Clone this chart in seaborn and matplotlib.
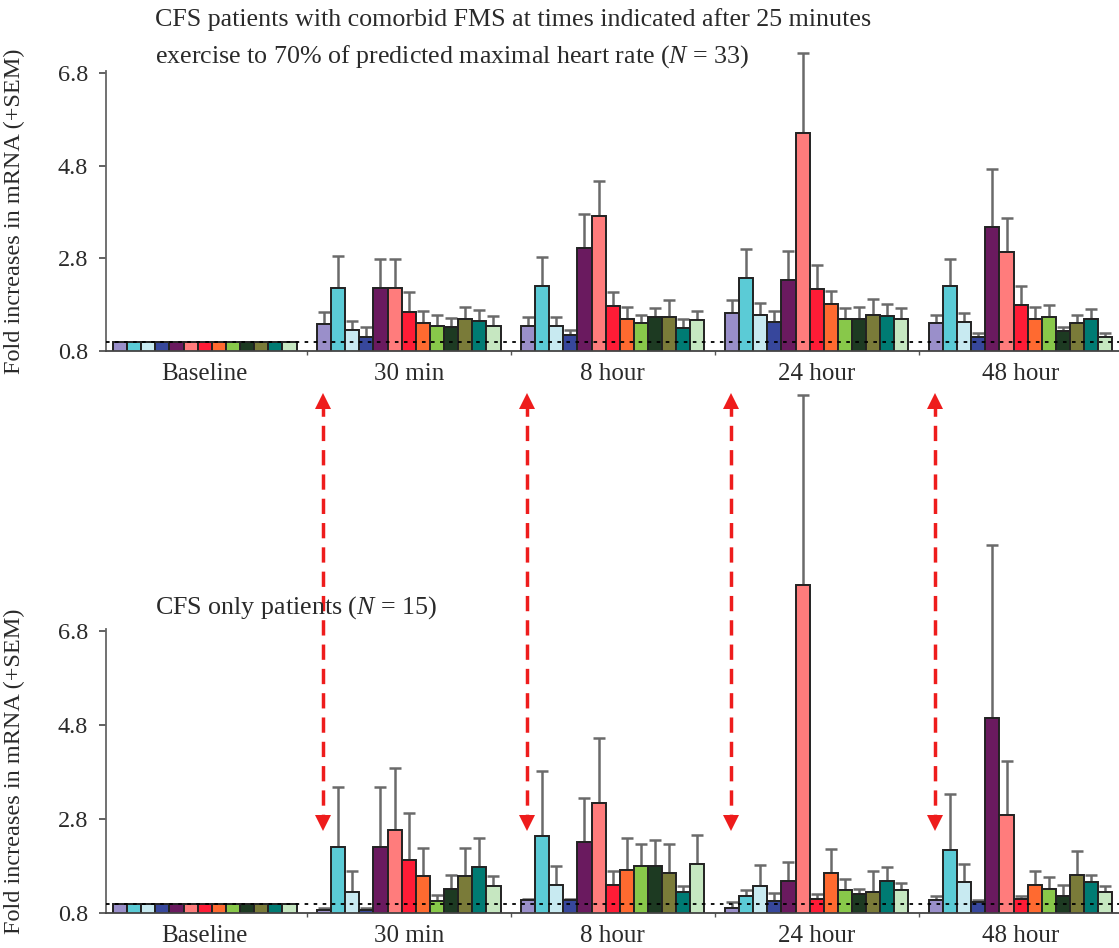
import numpy as np
import pandas as pd
import matplotlib
matplotlib.use("Agg")
import matplotlib.pyplot as plt
import seaborn as sns
from matplotlib.lines import Line2D
from matplotlib.patches import Rectangle
from matplotlib.transforms import blended_transform_factory

# ---------------- data ----------------
times = ["Baseline", "30 min", "8 hour", "24 hour", "48 hour"]
genes = ["ASIC3", "P2X4", "P2X5", "TRPV1", "ADRA2A", "ADRB1", "ADRB2",
         "COMT", "IL6", "IL10", "TNFa", "TLR4", "CD14"]
gene_colors = ["#9a8fca", "#5bcbd6", "#c8eaf1", "#37479c", "#6a1a5f",
               "#ff7c7c", "#ff1c36", "#ff6a30", "#88c84a", "#1d3a22",
               "#7a7b39", "#007b73", "#c6e7c1"]

# Top panel: CFS with comorbid FMS (N = 33) -- mean fold change and SEM
top_baseline_mean = [1.0] * 13
top_baseline_sem = [np.nan] * 13
top_30min_mean = [1.38, 2.15, 1.26, 1.10, 2.15, 2.15, 1.65, 1.41, 1.34, 1.32, 1.50, 1.44, 1.35]
top_30min_sem = [0.26, 0.70, 0.19, 0.22, 0.64, 0.64, 0.42, 0.26, 0.24, 0.20, 0.26, 0.25, 0.21]
top_8h_mean = [1.33, 2.21, 1.33, 1.15, 3.02, 3.71, 1.77, 1.50, 1.40, 1.53, 1.53, 1.29, 1.47]
top_8h_sem = [0.21, 0.61, 0.21, 0.11, 0.73, 0.77, 0.31, 0.24, 0.18, 0.19, 0.38, 0.20, 0.19]
top_24h_mean = [1.62, 2.37, 1.58, 1.43, 2.34, 5.50, 2.13, 1.82, 1.49, 1.49, 1.58, 1.55, 1.50]
top_24h_sem = [0.28, 0.63, 0.26, 0.24, 0.61, 1.74, 0.52, 0.28, 0.23, 0.27, 0.35, 0.27, 0.22]
top_48h_mean = [1.40, 2.21, 1.43, 1.10, 3.47, 2.93, 1.79, 1.50, 1.53, 1.23, 1.41, 1.50, 1.10]
top_48h_sem = [0.17, 0.58, 0.20, 0.08, 1.25, 0.75, 0.42, 0.26, 0.26, 0.09, 0.17, 0.21, 0.08]

# Bottom panel: CFS only (N = 15)
bot_baseline_mean = [1.0] * 13
bot_baseline_sem = [np.nan] * 13
bot_30min_mean = [0.86, 2.20, 1.25, 0.86, 2.20, 2.56, 1.92, 1.58, 1.06, 1.32, 1.58, 1.78, 1.37]
bot_30min_sem = [0.04, 1.29, 0.44, 0.04, 1.29, 1.32, 1.01, 0.60, 0.12, 0.28, 0.60, 0.61, 0.21]
bot_8h_mean = [1.07, 2.43, 1.40, 1.07, 2.31, 3.14, 1.40, 1.72, 1.81, 1.79, 1.66, 1.25, 1.84]
bot_8h_sem = [0.02, 1.39, 0.41, 0.02, 0.94, 1.38, 0.29, 0.68, 0.45, 0.56, 0.60, 0.12, 0.63]
bot_24h_mean = [0.91, 1.16, 1.37, 1.06, 1.49, 7.78, 1.10, 1.66, 1.28, 1.20, 1.25, 1.49, 1.28]
bot_24h_sem = [0.12, 0.12, 0.45, 0.16, 0.40, 4.04, 0.10, 0.51, 0.24, 0.11, 0.44, 0.28, 0.15]
bot_48h_mean = [1.07, 2.13, 1.46, 1.04, 4.94, 2.88, 1.09, 1.40, 1.31, 1.17, 1.61, 1.46, 1.25]
bot_48h_sem = [0.09, 1.21, 0.39, 0.03, 3.70, 1.16, 0.07, 0.29, 0.26, 0.23, 0.50, 0.15, 0.12]

y_ticks = [0.8, 2.8, 4.8, 6.8]
reference_level = 1.0

top_title = ["CFS patients with comorbid FMS at times indicated after 25 minutes",
             "exercise to 70% of predicted maximal heart rate ($N$ = 33)"]
bot_title = "CFS only patients ($N$ = 15)"
y_label = "Fold increases in mRNA (+SEM)"


def build_frame(means, sems):
    rows = []
    for t, m_list, s_list in zip(times, means, sems):
        for g, m, s in zip(genes, m_list, s_list):
            rows.append({"time": t, "gene": g, "mean": m, "sem": s})
    return pd.DataFrame(rows)


top_df = build_frame(
    [top_baseline_mean, top_30min_mean, top_8h_mean, top_24h_mean, top_48h_mean],
    [top_baseline_sem, top_30min_sem, top_8h_sem, top_24h_sem, top_48h_sem])
bot_df = build_frame(
    [bot_baseline_mean, bot_30min_mean, bot_8h_mean, bot_24h_mean, bot_48h_mean],
    [bot_baseline_sem, bot_30min_sem, bot_8h_sem, bot_24h_sem, bot_48h_sem])

# ---------------- style ----------------
sns.set_style("ticks")
plt.rcParams["font.family"] = ["Liberation Serif", "DejaVu Serif"]
plt.rcParams["mathtext.fontset"] = "custom"
plt.rcParams["mathtext.rm"] = "Liberation Serif"
plt.rcParams["mathtext.it"] = "Liberation Serif:italic"
text_color = "#2a2a2a"

W, H = 1119, 948
fig = plt.figure(figsize=(W / 100, H / 100), dpi=100)

ylim = (0.8, 6.85)
left_px, right_px = 106, 1119
ax_top = fig.add_axes([left_px / W, 1 - 351 / H, (right_px - left_px) / W,
                       (ylim[1] - ylim[0]) * 46.33 / H])
ax_bot = fig.add_axes([left_px / W, 1 - 913 / H, (right_px - left_px) / W,
                       (ylim[1] - ylim[0]) * 47.0 / H])

palette = dict(zip(genes, gene_colors))


def draw_panel(ax, df):
    sns.barplot(data=df, x="time", y="mean", hue="gene", order=times,
                hue_order=genes, palette=palette, errorbar=None, width=0.9,
                saturation=1, edgecolor="#222222", linewidth=1.4,
                legend=False, ax=ax, zorder=2)
    # clip bars only at the bottom of the axes, let tall bars rise above the top
    clip_rect = Rectangle((-0.1, 0.0), 1.2, 4.0, transform=ax.transAxes)
    for gene, cont in zip(genes, ax.containers):
        sub = df[df["gene"] == gene].set_index("time").loc[times]
        for patch, sem in zip(cont.patches, sub["sem"].values):
            patch.set_clip_path(clip_rect)
            if np.isnan(sem):
                continue
            xc = patch.get_x() + patch.get_width() / 2
            yv = patch.get_height()
            ax.errorbar([xc], [yv], yerr=[[0], [sem]], fmt="none",
                        ecolor="#6a6a6a", elinewidth=1.8, capsize=4.6,
                        capthick=1.8, zorder=1, clip_on=False)
    ax.axhline(reference_level, color="black", lw=1.3, ls=(0, (2, 3)), zorder=3)
    ax.set_ylim(*ylim)
    ax.set_xlim(-0.484, 4.482)
    ax.set_yticks(y_ticks)
    ax.set_yticklabels([f"{v:.1f}" for v in y_ticks])
    ax.set_xticks(range(len(times)))
    ax.set_xticklabels(times)
    ax.set_xticks([0.5, 1.5, 2.5, 3.5], minor=True)
    ax.tick_params(axis="x", which="major", length=0, pad=9, labelsize=18,
                   labelcolor=text_color)
    ax.tick_params(axis="x", which="minor", length=3, width=1.0, color="#555555")
    ax.tick_params(axis="y", length=5, width=1.3, color="#555555", pad=8,
                   labelsize=17.5, labelcolor=text_color)
    ax.set_xlabel("")
    ax.set_ylabel(y_label, fontsize=17.5, color=text_color)
    ax.yaxis.set_label_coords(-0.08, 0.5)
    for s in ("top", "right"):
        ax.spines[s].set_visible(False)
    ax.spines["left"].set_color("#666666")
    ax.spines["left"].set_linewidth(1.3)
    ax.spines["bottom"].set_color("#444444")
    ax.spines["bottom"].set_linewidth(1.3)
    ax.set_facecolor("none")


draw_panel(ax_top, top_df)
draw_panel(ax_bot, bot_df)

# titles
fig.text(155 / W, 1 - 20 / H, top_title[0], ha="left", va="center",
         fontsize=18.7, color=text_color)
fig.text(155 / W, 1 - 57 / H, top_title[1], ha="left", va="center",
         fontsize=18.7, color=text_color)
fig.text(155 / W, 1 - 608 / H, bot_title, ha="left", va="center",
         fontsize=18.7, color=text_color)

# red dashed double-headed arrows linking the panels
trans = blended_transform_factory(ax_top.transData, fig.transFigure)
arrow_red = "#ee1c1c"
y_tip_top, y_tip_bot, head = 1 - 393 / H, 1 - 831 / H, 8 / H
for gi in range(1, len(times)):
    xa = gi - 0.42
    fig.add_artist(Line2D([xa, xa], [y_tip_top - head, y_tip_bot + head],
                          transform=trans, color=arrow_red, lw=2.5,
                          dashes=(4.4, 2.6)))
    fig.add_artist(Line2D([xa], [y_tip_top - head], transform=trans,
                          marker="^", markersize=11.5, color=arrow_red,
                          markeredgewidth=0, linestyle="none"))
    fig.add_artist(Line2D([xa], [y_tip_bot + head], transform=trans,
                          marker="v", markersize=11.5, color=arrow_red,
                          markeredgewidth=0, linestyle="none"))

fig.savefig("out.png", dpi=100)
